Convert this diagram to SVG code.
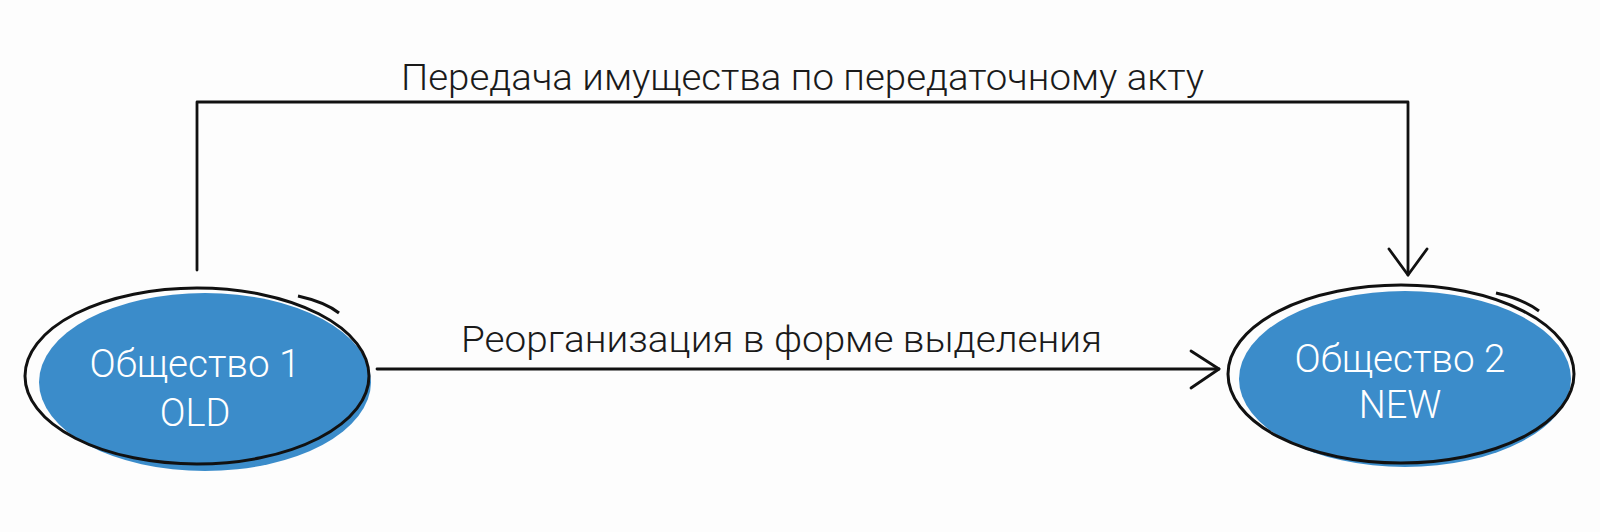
<svg xmlns="http://www.w3.org/2000/svg" width="1600" height="532" viewBox="0 0 1600 532">
<style>
.bg{fill:#fdfdfd}
.fill{fill:#3b8cca}
.outline{fill:none;stroke:#111;stroke-width:3}
.conn{fill:none;stroke:#111;stroke-width:2.8;stroke-linecap:round;stroke-linejoin:round}
.lbl{font-family:Roboto,"Liberation Sans",Arial,sans-serif;font-weight:300;font-size:37px;fill:#1a1a1a}
.ntx{font-family:Roboto,"Liberation Sans",Arial,sans-serif;font-weight:300;font-size:38px;fill:#ffffff;text-anchor:middle}
</style>
<rect class="bg" x="0" y="0" width="1600" height="532"/>
<g id="connectors">
<path class="conn" d="M197,270 L197,102 L1408,102 L1408,275"/>
<path class="conn" d="M1389,249 L1408,275 L1427,249"/>
<path class="conn" d="M377,369 L1219,369"/>
<path class="conn" d="M1191,351 L1219,369 L1191,388"/>
</g>
<g id="labels">
<text class="lbl" x="401" y="90" textLength="803" lengthAdjust="spacingAndGlyphs">Передача имущества по передаточному акту</text>
<text class="lbl" x="461" y="352" textLength="641" lengthAdjust="spacingAndGlyphs">Реорганизация в форме выделения</text>
</g>
<g id="node-old">
<ellipse class="fill" cx="205" cy="382" rx="166" ry="89"/>
<ellipse class="outline" cx="197" cy="376" rx="172" ry="88"/>
<path class="outline" d="M298,296 Q325,302 339,313" stroke-width="2"/>
<text class="ntx" x="195" y="377" textLength="211" lengthAdjust="spacingAndGlyphs">Общество 1</text>
<text class="ntx" x="195" y="426">OLD</text>
</g>
<g id="node-new">
<ellipse class="fill" cx="1405" cy="379" rx="166" ry="88"/>
<ellipse class="outline" cx="1401" cy="374" rx="173" ry="89"/>
<path class="outline" d="M1496,293 Q1523,299 1539,311" stroke-width="2"/>
<text class="ntx" x="1400" y="372" textLength="211" lengthAdjust="spacingAndGlyphs">Общество 2</text>
<text class="ntx" x="1400" y="418">NEW</text>
</g>
</svg>
